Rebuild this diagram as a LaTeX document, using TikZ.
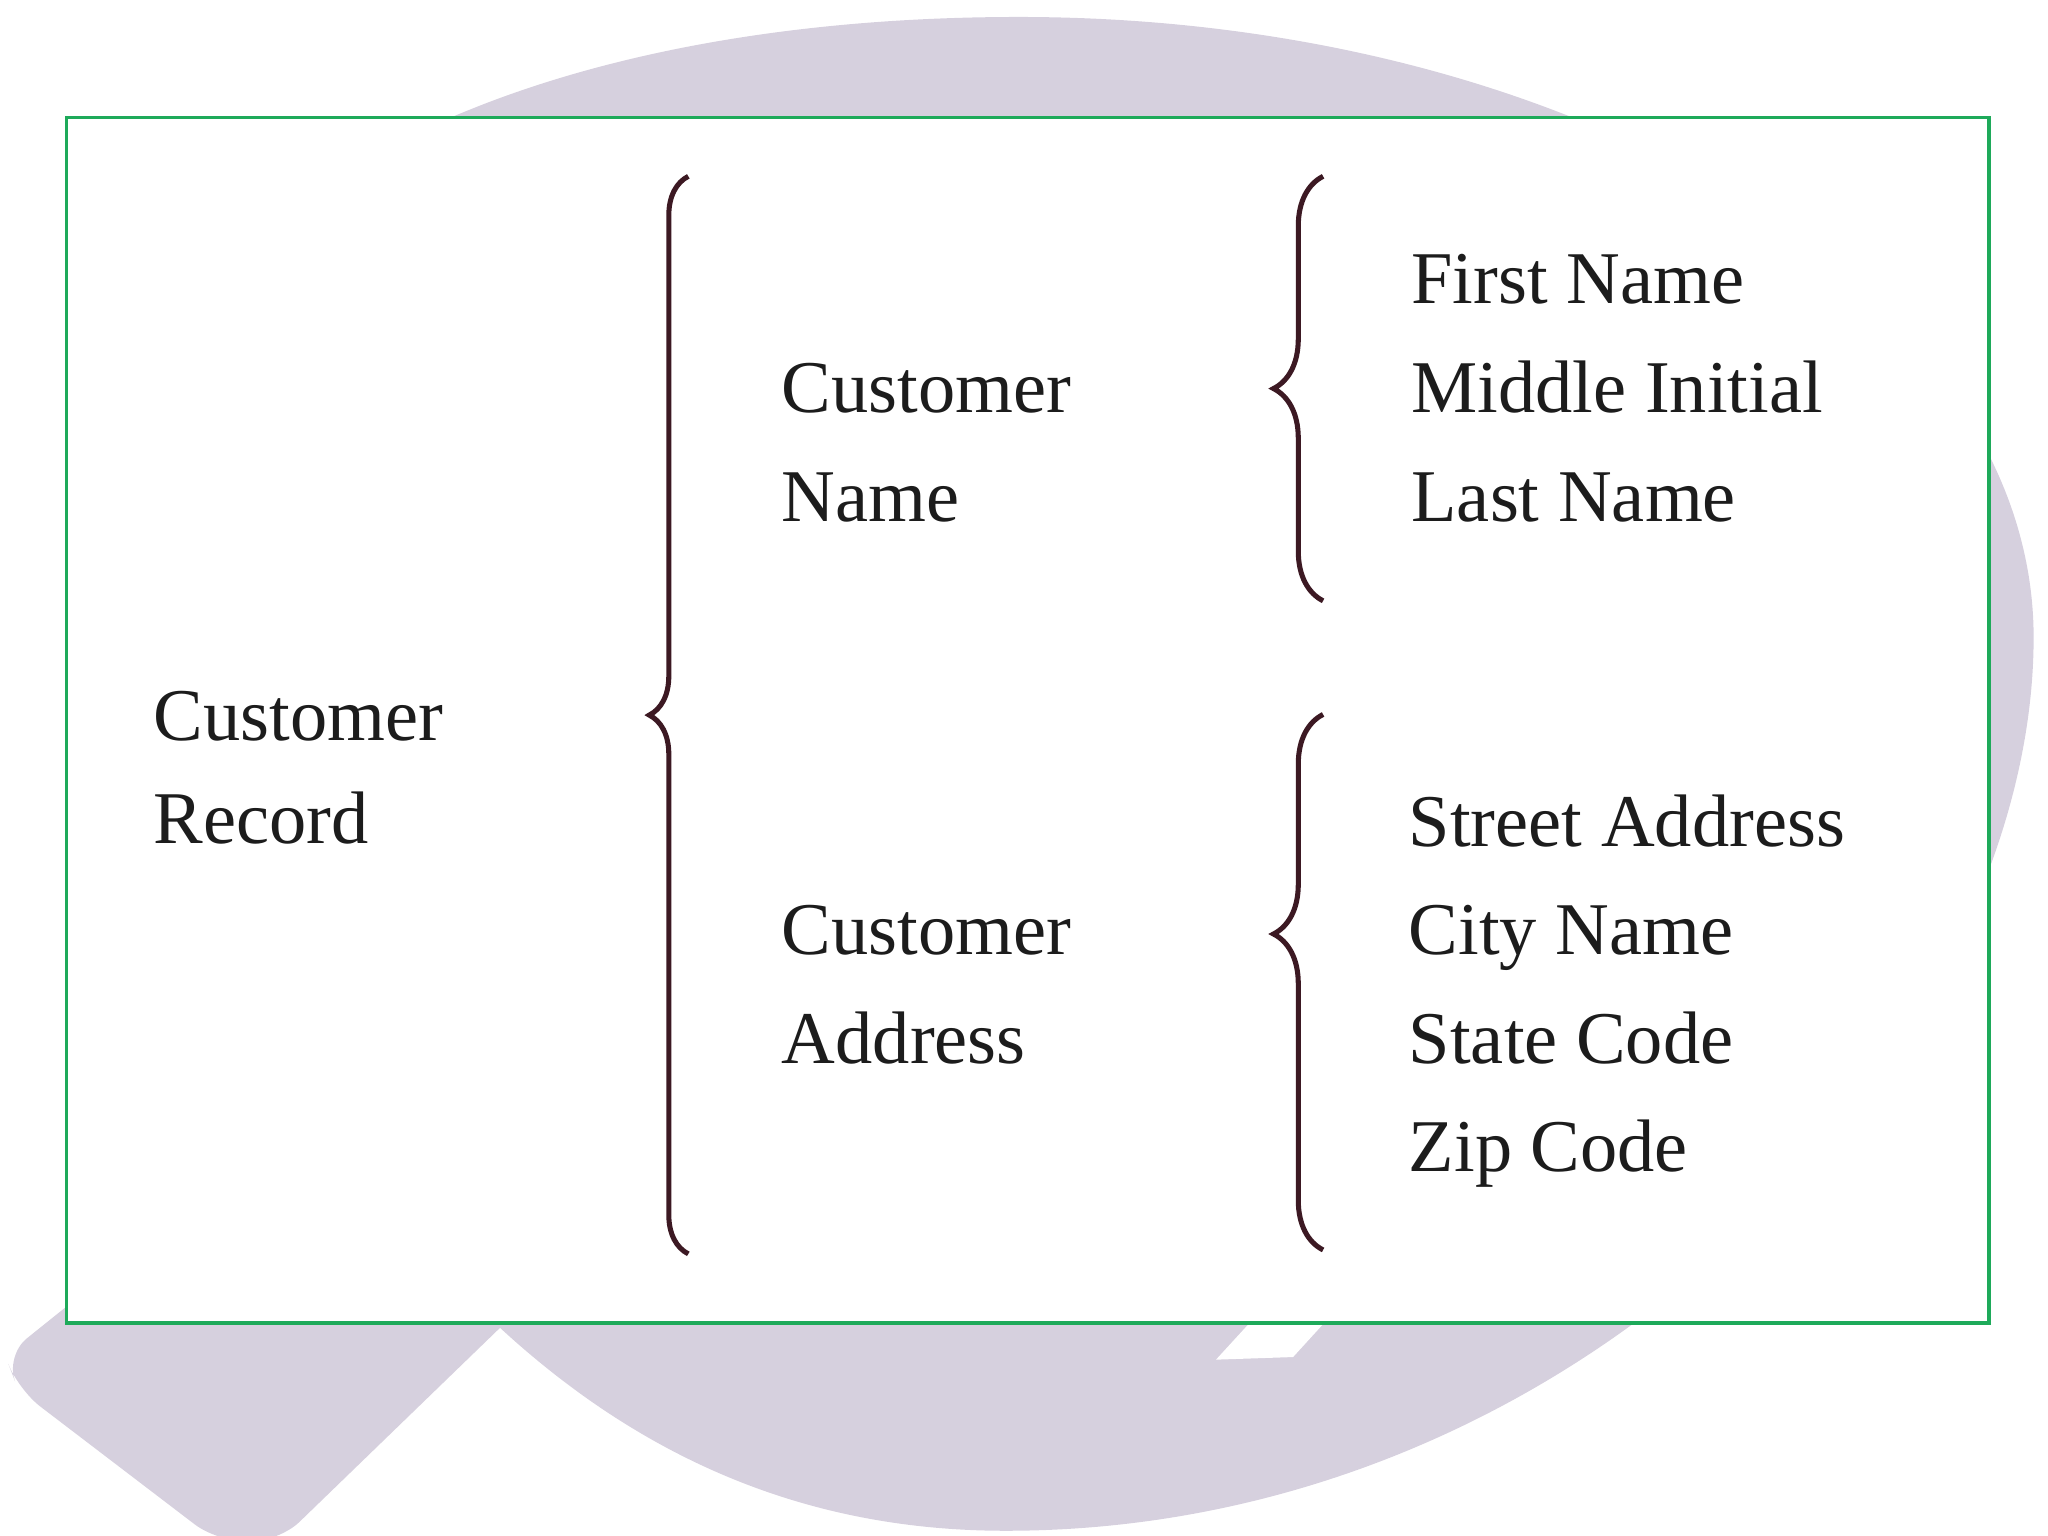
\documentclass[tikz,border=0pt]{standalone}
\usepackage{fontspec}
\setmainfont{Liberation Serif}
\usetikzlibrary{decorations.pathreplacing}
\definecolor{lav}{RGB}{214,208,222}
\definecolor{frm}{RGB}{30,170,90}
\definecolor{ink}{RGB}{28,28,28}
\definecolor{brc}{RGB}{60,25,35}
\tikzset{
  lbl/.style={anchor=base west, inner sep=0pt, text=ink, font=\fontsize{16.2}{19}\selectfont},
  curly/.style={draw=brc, line width=1.1pt, decorate, decoration={brace, amplitude=#1}},
  curly/.default=10pt,
}
\begin{document}
\begin{tikzpicture}[x=0.01cm, y=-0.01cm]
  \useasboundingbox (0,0) rectangle (1568,1176);
  % background logo
  \fill[lav] (780,13) .. controls (1209,13) and (1557,226) .. (1557,488)
    .. controls (1557,796) and (1220,1172) .. (770,1172)
    .. controls (500,1172) and (260,1000) .. (60,488)
    .. controls (60,150) and (400,13) .. (780,13) -- cycle;
  \fill[lav, rounded corners=6pt] (70,985) -- (4,1038) -- (14,1064) -- (166,1180) -- (214,1180)
    -- (400,1000) -- (400,960) -- (100,960) -- cycle;
  \fill[white] (964,1005) -- (1021,1005) -- (990,1039) -- (931,1041) -- cycle;
  % frame
  \draw[frm, line width=0.8pt, fill=white] (51,90) rectangle (1523,1013);
  \draw
    (117,567) node[lbl] (rec1){Customer}
    (117,646) node[lbl] (rec2){Record}
    (598,316) node[lbl] (cn1){Customer}
    (598,399) node[lbl] (cn2){Name}
    (598,731) node[lbl] (ca1){Customer}
    (598,814) node[lbl] (ca2){Address}
    (1080,232) node[lbl] (first){First Name}
    (1080,316) node[lbl] (middle){Middle Initial}
    (1080,399) node[lbl] (last){Last Name}
    (1078,648) node[lbl] (street){Street Address}
    (1078,731) node[lbl] (city){City Name}
    (1078,814) node[lbl] (state){State Code}
    (1078,897) node[lbl] (zip){Zip Code};
  \coordinate (t0) at (527,135);
  \coordinate (b0) at (527,960);
  \coordinate (t1) at (1013,135);
  \coordinate (b1) at (1013,460);
  \coordinate (t2) at (1013,547);
  \coordinate (b2) at (1013,957);
  \draw[curly=8.5pt] (b0) -- (t0);
  \draw[curly=10.8pt] (b1) -- (t1);
  \draw[curly=10.8pt, decoration={aspect=0.59}] (b2) -- (t2);
\end{tikzpicture}
\end{document}
